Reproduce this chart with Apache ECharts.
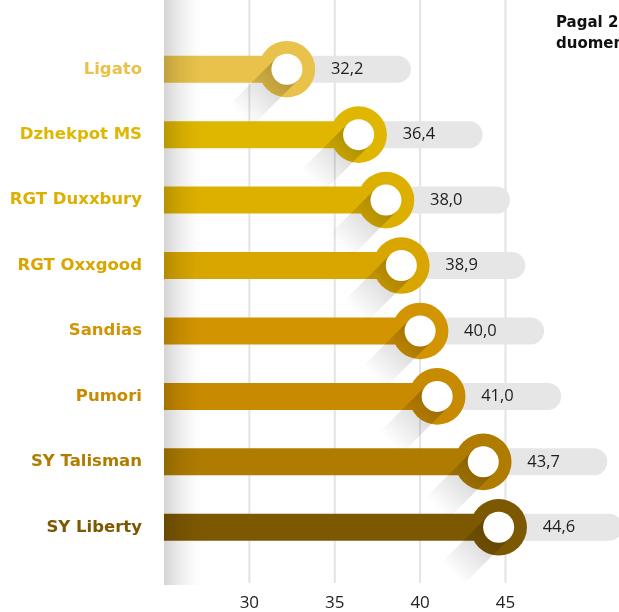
<!DOCTYPE html>
<html>
<head>
<meta charset="utf-8">
<script src="https://cdn.jsdelivr.net/npm/echarts@6/dist/echarts.min.js"></script>
<style>
  html, body { margin: 0; padding: 0; background: #fff; }
  #main { width: 619px; height: 612px; }
</style>
</head>
<body>
<div id="main"></div>
<script>
// veislės ir jų reikšmės
var varieties = ['Ligato', 'Dzhekpot MS', 'RGT Duxxbury', 'RGT Oxxgood', 'Sandias', 'Pumori', 'SY Talisman', 'SY Liberty'];
var values = [32.2, 36.4, 38.0, 38.9, 40.0, 41.0, 43.7, 44.6];
var colors = ['#E8C24A', '#DFB600', '#DDB000', '#D9A600', '#D29400', '#C88A00', '#AF7C00', '#7C5800'];
var tickLabels = [30, 35, 40, 45];
var note = 'Pagal 2023 m.\nduomenis';

var myChart = echarts.init(document.getElementById('main'));

function fmt(v) {
    return v.toFixed(1).replace('.', ',');
}

var option = {
    animation: false,
    backgroundColor: '#fff',
    grid: [
        { left: 164, right: 0, top: 36.5, height: 523.5 },   // juostos
        { left: 164, right: 0, top: 0, bottom: 27 }          // tinklelis + ašis
    ],
    xAxis: [
        { gridIndex: 0, type: 'value', min: 25, max: 51.65, show: false },
        {
            gridIndex: 1, type: 'value', min: 25, max: 51.65, interval: 5,
            axisLine: { show: false }, axisTick: { show: false }, splitLine: { show: false },
            axisLabel: {
                margin: 12,
                color: '#222',
                fontSize: 17,
                fontFamily: 'Open Sans',
                showMaxLabel: false,
                formatter: function (v) {
                    return tickLabels.indexOf(v) >= 0 ? String(v) : '';
                }
            }
        }
    ],
    yAxis: [
        {
            gridIndex: 0, type: 'category', inverse: true, data: varieties,
            axisLine: { show: false }, axisTick: { show: false }, splitLine: { show: false },
            axisLabel: {
                margin: 22,
                fontSize: 16.5,
                fontWeight: 'bold',
                fontFamily: 'DejaVu Sans',
                color: function (val, idx) { return colors[idx]; }
            }
        },
        { gridIndex: 1, type: 'value', min: 0, max: 1, show: false }
    ],
    graphic: [
        {   // šešėlis kairėje
            type: 'rect', left: 164, top: 0, z: 100, silent: true,
            shape: { width: 40, height: 585 },
            style: {
                fill: new echarts.graphic.LinearGradient(0, 0, 1, 0, [
                    { offset: 0, color: 'rgba(0,0,0,0.17)' },
                    { offset: 0.4, color: 'rgba(0,0,0,0.07)' },
                    { offset: 0.8, color: 'rgba(0,0,0,0.012)' },
                    { offset: 1, color: 'rgba(0,0,0,0)' }
                ])
            }
        },
        {
            type: 'text', left: 556, top: 13, z: 100,
            style: { text: note, fill: '#111', font: 'bold 15px "DejaVu Sans"', lineHeight: 21 }
        }
    ],
    series: [
        {   // tinklelio linijos
            type: 'custom', xAxisIndex: 1, yAxisIndex: 1, z: 0, silent: true,
            data: tickLabels.map(function (t) { return [t, 0]; }),
            encode: { x: 0, y: 1 },
            renderItem: function (params, api) {
                var top = api.coord([api.value(0), 1]);
                var bottom = api.coord([api.value(0), 0]);
                return {
                    type: 'line',
                    shape: { x1: top[0], y1: top[1], x2: bottom[0], y2: bottom[1] },
                    style: { stroke: '#e3e3e3', lineWidth: 2 }
                };
            }
        },
        {   // pilkas takelis
            type: 'custom', xAxisIndex: 0, yAxisIndex: 0, z: 1,
            data: values.map(function (v, i) { return [v, i]; }),
            encode: { x: 0, y: 1 },
            renderItem: function (params, api) {
                var p = api.coord([api.value(0), api.value(1)]);
                return {
                    type: 'rect',
                    shape: { x: p[0], y: p[1] - 13.5, width: 124, height: 27, r: [0, 13.5, 13.5, 0] },
                    style: { fill: '#e6e6e6' }
                };
            }
        },
        {
            type: 'bar', xAxisIndex: 0, yAxisIndex: 0, z: 2,
            barWidth: 27,
            data: values.map(function (v, i) {
                return { value: v, itemStyle: { color: colors[i] } };
            })
        },
        {   // žiedai su šešėliu
            type: 'custom', xAxisIndex: 0, yAxisIndex: 0, z: 3,
            data: values.map(function (v, i) { return [v, i]; }),
            encode: { x: 0, y: 1 },
            renderItem: function (params, api) {
                var idx = api.value(1);
                var p = api.coord([api.value(0), idx]);
                var cx = p[0], cy = p[1];
                var r = 15.5, L = 66, k = Math.SQRT1_2;
                var nx = r * k, ny = r * k, dx = -L * k, dy = L * k;
                return {
                    type: 'group',
                    children: [
                        { type: 'circle', shape: { cx: cx, cy: cy, r: 28.3 }, style: { fill: colors[idx] } },
                        {
                            type: 'polygon',
                            shape: { points: [
                                [cx + nx, cy + ny], [cx - nx, cy - ny],
                                [cx - nx + dx, cy - ny + dy], [cx + nx + dx, cy + ny + dy]
                            ] },
                            style: {
                                fill: new echarts.graphic.LinearGradient(cx, cy, cx + dx, cy + dy, [
                                    { offset: 0, color: 'rgba(0,0,0,0.24)' },
                                    { offset: 0.42, color: 'rgba(0,0,0,0.12)' },
                                    { offset: 1, color: 'rgba(0,0,0,0)' }
                                ], true)
                            }
                        },
                        { type: 'circle', shape: { cx: cx, cy: cy, r: r }, style: { fill: '#fff' } },
                        {
                            type: 'text', x: cx + 44, y: cy,
                            style: {
                                text: fmt(values[idx]), fill: '#1e1e1e',
                                font: '16.5px "Open Sans"', align: 'left', verticalAlign: 'middle'
                            }
                        }
                    ]
                };
            }
        }
    ]
};

myChart.setOption(option);
</script>
</body>
</html>
